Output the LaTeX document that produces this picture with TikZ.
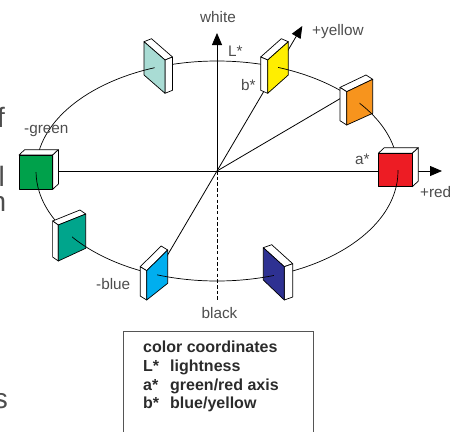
\documentclass[tikz,border=0pt]{standalone}
\usepackage{fontspec}
\setmainfont{Liberation Sans}
\usetikzlibrary{calc,arrows.meta}
\definecolor{lteal}{HTML}{A9DCD4}
\definecolor{cyel}{HTML}{FFEE00}
\definecolor{corange}{HTML}{F7941D}
\definecolor{cred}{HTML}{ED1C24}
\definecolor{cgreen}{HTML}{00A14B}
\definecolor{cteal}{HTML}{00A58C}
\definecolor{ccyan}{HTML}{00AEEF}
\definecolor{cdblue}{HTML}{2E3192}
\definecolor{labgray}{HTML}{4D4D4D}
\definecolor{legtext}{HTML}{2B2B2B}
\definecolor{legframe}{HTML}{555555}
\tikzset{
  lbl/.style={font=\fontsize{15.3}{18}\selectfont, text=labgray, inner sep=0pt, anchor=base west},
  leg/.style={font=\fontsize{16}{19}\selectfont\bfseries, text=legtext, inner sep=0pt, anchor=base west},
  frag/.style={font=\fontsize{28}{32}\selectfont, text=labgray, inner sep=0pt, anchor=base east},
  axisline/.style={line width=0.8pt, draw=black},
  curve/.style={line width=0.7pt, draw=black},
  tipped/.style={-{Triangle[length=12pt,width=10pt]}},
  boxedge/.style={draw=black, line width=0.7pt, line join=round},
}
% slab with white side on the left
\newcommand\slabL[7]{%
  \coordinate (#1A) at (#3); \coordinate (#1B) at (#4);
  \coordinate (#1C) at (#5); \coordinate (#1D) at (#6);
  \coordinate (#1At) at ($(#1A)+(#7)$);
  \coordinate (#1Bt) at ($(#1B)+(#7)$);
  \coordinate (#1Dt) at ($(#1D)+(#7)$);
  \filldraw[boxedge, fill=white] (#1A)--(#1At)--(#1Bt)--(#1B)--cycle;
  \filldraw[boxedge, fill=white] (#1A)--(#1At)--(#1Dt)--(#1D)--cycle;
  \filldraw[boxedge, fill=#2] (#1A)--(#1B)--(#1C)--(#1D)--cycle;
}
% slab with white side on the right
\newcommand\slabR[7]{%
  \coordinate (#1A) at (#3); \coordinate (#1B) at (#4);
  \coordinate (#1C) at (#5); \coordinate (#1D) at (#6);
  \coordinate (#1At) at ($(#1A)+(#7)$);
  \coordinate (#1Bt) at ($(#1B)+(#7)$);
  \coordinate (#1Ct) at ($(#1C)+(#7)$);
  \filldraw[boxedge, fill=white] (#1A)--(#1At)--(#1Bt)--(#1B)--cycle;
  \filldraw[boxedge, fill=white] (#1B)--(#1Bt)--(#1Ct)--(#1C)--cycle;
  \filldraw[boxedge, fill=#2] (#1A)--(#1B)--(#1C)--(#1D)--cycle;
}
% piece of the ring drawn over a face
\newcommand\overface[2]{%
  \begin{scope}
    \clip (#1A)--(#1B)--(#1C)--(#1D)--cycle;
    \clip #2;
    \draw[curve] (O) ellipse [x radius=181pt, y radius=110pt];
  \end{scope}
}
\begin{document}
\begin{tikzpicture}[x=1pt,y=-1pt]
\useasboundingbox (0,0) rectangle (460,431);

% named points
\coordinate (O) at (217,171);
\coordinate (wtip) at (217,33);
\coordinate (btm) at (217,300);
\coordinate (rtip) at (442,171);
\coordinate (gmid) at (36,171);
\coordinate (ytip) at (302.3,26);
\coordinate (bstart) at (165.2,259);
\coordinate (oend) at (348,94);

% ring
\draw[curve] (O) ellipse [x radius=181pt, y radius=110pt];

% axes
\draw[axisline] (gmid) -- (O);
\draw[axisline, tipped] (O) -- (rtip);
\draw[axisline, tipped] (O) -- (wtip);
\draw[axisline, dash pattern=on 3.5pt off 2.2pt] (O) -- (btm);
\draw[axisline, tipped] (bstart) -- (ytip);
\draw[axisline] (O) -- (oend);

% colour patches
\slabR{lt}{lteal}{144,41.7}{165,60}{165,93.3}{144,75}{7.5,-3}
\slabL{ye}{cyel}{267.7,60}{288.3,41.7}{288.3,75}{267.7,93.3}{-7,-3}
\slabL{or}{corange}{346.7,91.7}{372.7,79.3}{372.7,113.3}{346.7,125}{-6.7,-4.3}
\slabR{re}{cred}{378.3,153.3}{412.3,153.3}{412.3,186.7}{378.3,186.7}{6,-5.6}
\slabR{db}{cdblue}{263.3,247.7}{284.3,266.7}{284.3,300}{263.3,280}{8.4,-3}
\slabL{cy}{ccyan}{146.7,270.7}{167.7,250}{167.7,283.3}{146.7,300}{-6.5,-4}
\slabL{te}{cteal}{58.3,225}{85.7,214}{85.7,248.3}{58.3,261}{-5.7,-4}
\slabR{gr}{cgreen}{19,155}{52.7,155}{52.7,189.3}{19,189.3}{5.7,-5.3}

% ring pieces in front of the faces
\overface{gr}{(0,172) rectangle (100,200)}
\overface{lt}{(100,0) rectangle (154.5,120)}
\overface{ye}{(278,0) rectangle (300,120)}
\overface{or}{(359.7,60) rectangle (400,140)}
\overface{re}{(370,170) rectangle (420,200)}
\overface{db}{(250,230) rectangle (273.8,310)}
\overface{cy}{(157.2,230) rectangle (180,310)}
\overface{te}{(72,200) rectangle (100,270)}

% labels
\node[lbl, anchor=base] (lwhite) at (218,22) {white};
\node[lbl] (lL) at (228,56.5) {L*};
\node[lbl] (lb) at (241,90) {b*};
\node[lbl] (lyel) at (312,35) {+yellow};
\node[lbl] (lgreen) at (24,133.5) {-green};
\node[lbl] (la) at (355,164) {a*};
\node[lbl] (lred) at (420,197.5) {+red};
\node[lbl] (lblue) at (96,289) {-blue};
\node[lbl, anchor=base] (lblack) at (219.5,318) {black};

% legend
\draw[draw=legframe, line width=0.9pt] (123,331) rectangle (313,445);
\node[leg] (t0) at (143,352.5) {color coordinates};
\node[leg] (t1a) at (143,371.5) {L*};
\node[leg] (t1b) at (170,371.5) {lightness};
\node[leg] (t2a) at (143,390) {a*};
\node[leg] (t2b) at (170,390) {green/red axis};
\node[leg] (t3a) at (143,408.5) {b*};
\node[leg] (t3b) at (170,408.5) {blue/yellow};

% cut-off text at the left edge
\node[frag] (f1) at (5,127) {of};
\node[frag] (f2) at (5,186) {l};
\node[frag] (f3) at (6.5,211) {n};
\node[frag] (f4) at (8,408) {s};
\end{tikzpicture}
\end{document}
